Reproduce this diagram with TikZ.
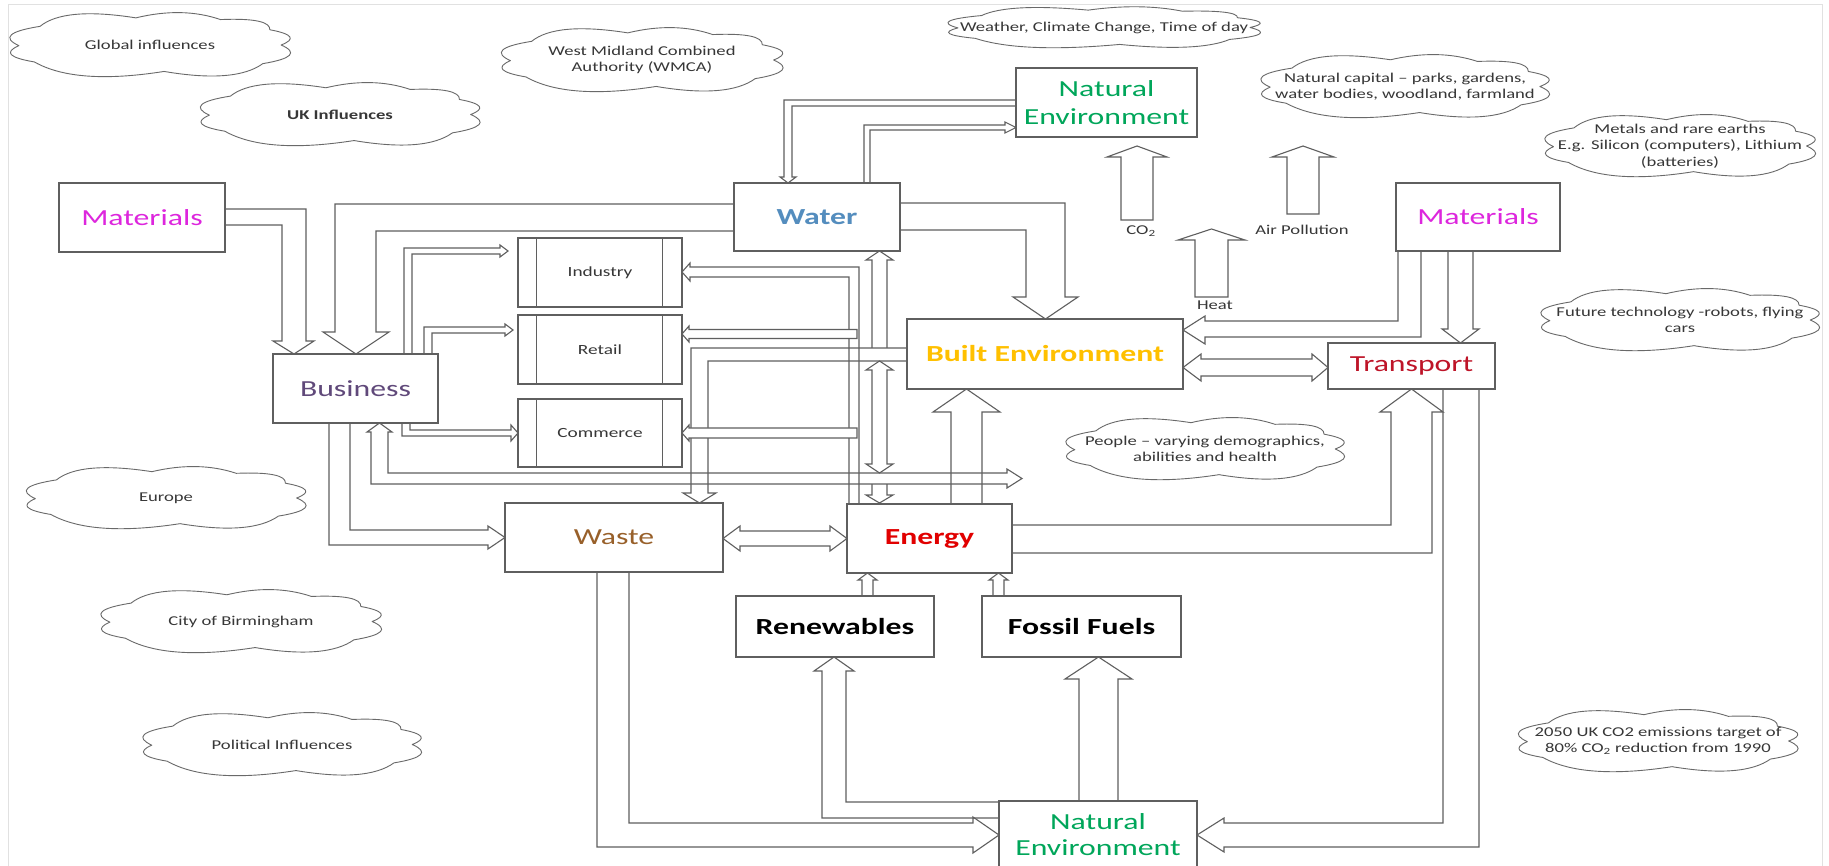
\documentclass[tikz,border=0pt]{standalone}
\usepackage{fontspec}
\setmainfont{Carlito}[FakeStretch=1.38]
\definecolor{ln}{RGB}{95,95,95}
\definecolor{cln}{RGB}{105,105,105}
\definecolor{ctx}{RGB}{55,55,55}
\definecolor{framec}{RGB}{225,225,225}
\definecolor{matc}{RGB}{221,38,221}
\definecolor{busc}{RGB}{96,73,122}
\definecolor{watc}{RGB}{84,141,190}
\definecolor{natc}{RGB}{0,166,90}
\definecolor{bltc}{RGB}{255,192,0}
\definecolor{trc}{RGB}{190,20,40}
\definecolor{wstc}{RGB}{152,96,42}
\definecolor{enc}{RGB}{225,0,0}
\tikzset{cloudpic/.pic={
  \draw[draw=cln,line width=0.9pt,fill=white,line join=round]
    (0.93,0) .. controls (1.052,0.222) and (1.008,0.406) .. (0.80,0.55)
    .. controls (0.670,0.942) and (0.437,1.018) .. (0.10,0.78)
    .. controls (-0.319,1.055) and (-0.625,0.961) .. (-0.82,0.50)
    .. controls (-1.001,0.373) and (-1.037,0.213) .. (-0.93,0.02)
    .. controls (-1.051,-0.215) and (-1.001,-0.405) .. (-0.78,-0.55)
    .. controls (-0.666,-0.939) and (-0.439,-1.023) .. (-0.10,-0.80)
    .. controls (0.12,-1.023) and (0.32,-1.007) .. (0.50,-0.75)
    .. controls (0.737,-0.79) and (0.853,-0.69) .. (0.85,-0.45)
    .. controls (1.012,-0.324) and (1.038,-0.174) .. (0.93,0) -- cycle;
}}
\begin{document}
\begin{tikzpicture}[x=1pt,y=-1pt,
  blk/.style={draw=ln,line width=1.1pt,line join=miter},
  blkw/.style={blk,fill=white},
  box/.style={draw=ln,line width=1.2pt,fill=white,inner sep=0pt,align=center,font=\fontsize{23}{28}\selectfont},
  pp/.style={box,font=\fontsize{14}{17}\selectfont,text=ctx},
  ct/.style={inner sep=0pt,align=center,text=ctx,font=\fontsize{13.5}{16.5}\selectfont}
]
\useasboundingbox (0,0) rectangle (1829,866);
\clip (0,0) rectangle (1829,866);
\fill[white] (0,0) rectangle (1829,866);
\draw[framec,line width=1pt] (8,870) -- (8,5) -- (1822,5) -- (1822,870);

% ---------- clouds ----------
\pic[xscale=141,yscale=33.9] at (150,45) {cloudpic};
\node[ct] (giT) at (150,45) {Global influences};
\pic[xscale=140.5,yscale=33.4] at (340,114.5) {cloudpic};
\node[ct,font=\fontsize{13.5}{16.5}\selectfont\bfseries] (ukT) at (340,114.5) {UK Influences};
\pic[xscale=141.5,yscale=33.9] at (642,60) {cloudpic};
\node[ct] (wmT) at (642,60) {West Midland Combined\\Authority (WMCA)};
\pic[xscale=157,yscale=21.7] at (1104,27.5) {cloudpic};
\node[ct] (weT) at (1104,27.5) {Weather, Climate Change, Time of day};
\pic[xscale=145,yscale=33.4] at (1405,86.5) {cloudpic};
\node[ct] (ncT) at (1405,86.5) {Natural capital -- parks, gardens,\\water bodies, woodland, farmland};
\pic[xscale=136,yscale=32.9] at (1680,146) {cloudpic};
\node[ct] (meT) at (1680,146) {Metals and rare earths\\E.g. Silicon (computers), Lithium\\(batteries)};
\pic[xscale=140,yscale=32.9] at (1680,320) {cloudpic};
\node[ct] (ftT) at (1680,320) {Future technology -robots, flying\\cars};
\pic[xscale=140,yscale=32.9] at (1205,449) {cloudpic};
\node[ct] (peT) at (1205,449) {People -- varying demographics,\\abilities and health};
\pic[xscale=140.5,yscale=32.9] at (166,498) {cloudpic};
\node[ct] (euT) at (166,498) {Europe};
\pic[xscale=141,yscale=33.4] at (241,621.5) {cloudpic};
\node[ct] (cbT) at (241,621.5) {City of Birmingham};
\pic[xscale=140,yscale=33.4] at (282,744.5) {cloudpic};
\node[ct] (piT) at (282,744.5) {Political Influences};
\pic[xscale=140.5,yscale=32.9] at (1658,741) {cloudpic};
\node[ct] (tgT) at (1658,741) {2050 UK CO2 emissions target of\\80\% CO\textsubscript{2} reduction from 1990};

% ---------- block arrows ----------
% Materials -> Business
\draw[blk] (225,209) -- (306,209) -- (306,341) -- (314,341) -- (294,354) -- (273,341) -- (282,341) -- (282,225) -- (225,225) -- cycle;
% Water -> Business
\draw[blk] (734,204) -- (335,204) -- (335,332) -- (323,332) -- (356,354) -- (389,332) -- (376,332) -- (376,231) -- (734,231) -- cycle;
% Business -> Industry / Retail / Commerce
\draw[blk] (404,354) -- (404,248) -- (500,248) -- (500,245) -- (508,251) -- (500,257) -- (500,254) -- (412,254) -- (412,354) -- cycle;
\draw[blk] (424,354) -- (424,327) -- (505,327) -- (505,324) -- (513,330) -- (505,336) -- (505,333) -- (432,333) -- (432,354) -- cycle;
\draw[blk] (402,423) -- (402,436) -- (511,436) -- (511,441) -- (518,433) -- (511,425) -- (511,430) -- (410,430) -- (410,423) -- cycle;
% Business -> Waste
\draw[blk] (329,423) -- (329,545) -- (488,545) -- (488,549) -- (505,537.5) -- (488,526) -- (488,530) -- (350,530) -- (350,423) -- cycle;
% Business <-> People
\draw[blk] (379.5,423) -- (392,432) -- (388,432) -- (388,473) -- (1007,473) -- (1007,469) -- (1022,478.5) -- (1007,488) -- (1007,484) -- (371,484) -- (371,432) -- (367,432) -- cycle;
% Natural Environment (top) <-> Water
\draw[blk] (1016,100) -- (784,100) -- (784,177) -- (780,177) -- (788,183) -- (796,177) -- (792,177) -- (792,106) -- (1016,106) -- cycle;
\draw[blk] (864,183) -- (864,125) -- (1005,125) -- (1005,122) -- (1016,127.5) -- (1005,133) -- (1005,130) -- (870,130) -- (870,183) -- cycle;
% Water -> Built Environment
\draw[blk] (900,203) -- (1065,203) -- (1065,297) -- (1078,297) -- (1045.5,319) -- (1013,297) -- (1026,297) -- (1026,230) -- (900,230) -- cycle;
% Water <-> Energy (vertical pieces)
\draw[blk] (872,348) -- (872,260) -- (866,260) -- (879.5,251) -- (893,260) -- (887,260) -- (887,348);
\draw[blk] (879.5,361) -- (893,370) -- (887,370) -- (887,464) -- (893,464) -- (879.5,473) -- (866,464) -- (872,464) -- (872,370) -- (866,370) -- cycle;
\draw[blk] (872,484) -- (872,495) -- (866,495) -- (879.5,503) -- (893,495) -- (887,495) -- (887,484);
% Built Environment -> Waste
\draw[blk] (907,348) -- (691,348) -- (691,493) -- (683,493) -- (699.5,503) -- (716,493) -- (708,493) -- (708,361) -- (907,361) -- cycle;
% Energy -> Industry
\draw[blk] (859,504) -- (859,267) -- (690,267) -- (690,263) -- (682,272) -- (690,281) -- (690,277) -- (849,277) -- (849,504) -- cycle;
% -> Retail, -> Commerce
\draw[blkw] (857,329.5) -- (689,329.5) -- (689,326) -- (682,334) -- (689,342) -- (689,338.5) -- (857,338.5) -- cycle;
\draw[blkw] (857,428) -- (689,428) -- (689,425) -- (682,433) -- (689,441) -- (689,438) -- (857,438) -- cycle;
% Waste <-> Energy
\draw[blk] (723,538.5) -- (740,526) -- (740,531) -- (830,531) -- (830,526) -- (847,538.5) -- (830,551) -- (830,546) -- (740,546) -- (740,551) -- cycle;
% Energy -> Built Environment
\draw[blk] (951,504) -- (951,412) -- (933,412) -- (966.5,389) -- (1000,412) -- (982,412) -- (982,504) -- cycle;
% Renewables / Fossil -> Energy
\draw[blk] (862,596) -- (862,580) -- (858,580) -- (867.5,573) -- (877,580) -- (873,580) -- (873,596) -- cycle;
\draw[blk] (993,596) -- (993,580) -- (989,580) -- (998.5,573) -- (1008,580) -- (1004,580) -- (1004,596) -- cycle;
% Energy -> Transport
\draw[blk] (1012,525) -- (1391,525) -- (1391,412) -- (1380,412) -- (1411.5,389) -- (1443,412) -- (1432,412) -- (1432,553) -- (1012,553) -- cycle;
% Materials (right) -> Built Environment / Transport
\draw[blk] (1398,251) -- (1398,321) -- (1205,321) -- (1205,316) -- (1183,330) -- (1205,344) -- (1205,337) -- (1421,337) -- (1421,251) -- cycle;
\draw[blk] (1448,251) -- (1448,329) -- (1442,329) -- (1460.5,343) -- (1479,329) -- (1473,329) -- (1473,251) -- cycle;
% Built Environment <-> Transport
\draw[blk] (1183,367.5) -- (1201,354) -- (1201,359) -- (1312,359) -- (1312,354) -- (1328,367.5) -- (1312,381) -- (1312,376) -- (1201,376) -- (1201,381) -- cycle;
% Transport -> Natural Environment (bottom)
\draw[blk] (1443,389) -- (1443,823) -- (1224,823) -- (1224,818) -- (1197,835) -- (1224,852) -- (1224,847) -- (1479,847) -- (1479,389) -- cycle;
% Waste -> Natural Environment (bottom)
\draw[blk] (597,572) -- (597,847) -- (973,847) -- (973,853) -- (999,835) -- (973,817) -- (973,823) -- (629,823) -- (629,572) -- cycle;
% Natural Environment (bottom) -> Renewables / Fossil Fuels
\draw[blk] (999,802) -- (846,802) -- (846,671) -- (854,671) -- (834,657) -- (814,671) -- (822,671) -- (822,818) -- (999,818) -- cycle;
\draw[blk] (1079,801) -- (1079,679) -- (1065,679) -- (1098.5,657) -- (1132,679) -- (1118,679) -- (1118,801) -- cycle;
% CO2, Air Pollution, Heat
\draw[blk] (1121,220) -- (1121,157) -- (1107,157) -- (1137,146) -- (1167,157) -- (1153,157) -- (1153,220) -- cycle;
\draw[blk] (1287,214) -- (1287,157) -- (1272,157) -- (1303,146) -- (1334,157) -- (1319,157) -- (1319,214) -- cycle;
\draw[blk] (1195,297) -- (1195,240) -- (1178,240) -- (1211.5,229) -- (1245,240) -- (1228,240) -- (1228,297) -- cycle;
\node[ct] (co2) at (1141,231) {CO\textsubscript{2}};
\node[ct] (airp) at (1302,230) {Air Pollution};
\node[ct] (heat) at (1215,305) {Heat};

% ---------- boxes ----------
\node[box,minimum width=166pt,minimum height=69pt,text=matc] (matL) at (142,217.5) {Materials};
\node[box,minimum width=166pt,minimum height=68pt,text=watc,font=\fontsize{23}{28}\selectfont\bfseries] (water) at (817,217) {Water};
\node[box,minimum width=181pt,minimum height=69pt,text=natc] (neT) at (1106.5,102.5) {Natural\\Environment};
\node[box,minimum width=164pt,minimum height=68pt,text=matc] (matR) at (1478,217) {Materials};
\node[box,minimum width=165pt,minimum height=69pt,text=busc] (bus) at (355.5,388.5) {Business};
\node[pp,minimum width=164pt,minimum height=69pt] (ind) at (600,272.5) {Industry};
\node[pp,minimum width=164pt,minimum height=69pt] (ret) at (600,349.5) {Retail};
\node[pp,minimum width=164pt,minimum height=68pt] (com) at (600,433) {Commerce};
\foreach \n in {ind,ret,com}{
  \draw[blk] ([xshift=19pt]\n.north west) -- ([xshift=19pt]\n.south west);
  \draw[blk] ([xshift=-20pt]\n.north east) -- ([xshift=-20pt]\n.south east);
}
\node[box,minimum width=276pt,minimum height=70pt,text=bltc,font=\fontsize{23}{28}\selectfont\bfseries] (built) at (1045,354) {Built Environment};
\node[box,minimum width=167pt,minimum height=46pt,text=trc] (trans) at (1411.5,366) {Transport};
\node[box,minimum width=218pt,minimum height=69pt,text=wstc] (waste) at (614,537.5) {Waste};
\node[box,minimum width=165pt,minimum height=69pt,text=enc,font=\fontsize{23}{28}\selectfont\bfseries] (energy) at (929.5,538.5) {Energy};
\node[box,minimum width=198pt,minimum height=61pt,font=\fontsize{23}{28}\selectfont\bfseries] (renew) at (835,626.5) {Renewables};
\node[box,minimum width=199pt,minimum height=61pt,font=\fontsize{23}{28}\selectfont\bfseries] (fossil) at (1081.5,626.5) {Fossil Fuels};
\node[box,minimum width=198pt,minimum height=79pt] (neB) at (1098,840.5) {};
\node[inner sep=0pt,align=center,text=natc,font=\fontsize{23}{26}\selectfont] (neBT) at (1098,835) {Natural\\Environment};
\end{tikzpicture}
\end{document}
